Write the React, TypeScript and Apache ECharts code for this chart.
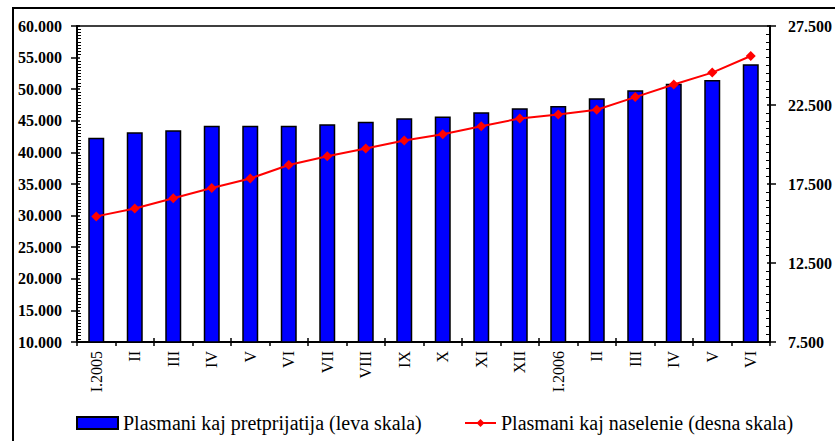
import React, { useEffect, useRef } from "react";
import * as echarts from "echarts";

const categories = [
  "I.2005", "II", "III", "IV", "V", "VI", "VII", "VIII", "IX", "X", "XI", "XII",
  "I.2006", "II", "III", "IV", "V", "VI",
];
const enterpriseLoans = [
  42300, 43200, 43500, 44200, 44200, 44200, 44450, 44850, 45400, 45700, 46350, 47000,
  47350, 48550, 49850, 50850, 51450, 53950,
];
const householdLoans = [
  15450, 15950, 16600, 17250, 17850, 18700, 19250, 19750, 20250, 20650, 21150, 21650,
  21900, 22200, 23000, 23800, 24550, 25600,
];
const leftAxisRange = [10000, 60000];
const rightAxisRange = [7500, 27500];
const axisStep = 5000;

const barName = "Plasmani kaj pretprijatija (leva skala)";
const lineName = "Plasmani kaj naselenie (desna skala)";

const fmt = (v: number) => String(v).replace(/\B(?=(\d{3})+(?!\d))/g, ".");

const SERIF = "'Liberation Serif', 'Times New Roman', serif";

export default function App() {
  const ref = useRef<HTMLDivElement>(null);
  useEffect(() => {
    if (!ref.current) return;
    const chart = echarts.init(ref.current, null, { renderer: "svg" });
    const yLabel = {
      show: true,
      fontFamily: SERIF,
      fontWeight: "bold" as const,
      fontSize: 16,
      color: "#000",
      margin: 15,
      formatter: (v: number) => fmt(v),
    };
    const overlayY = (pos: "left" | "right", range: number[]) => ({
      type: "value",
      position: pos,
      min: range[0],
      max: range[1],
      interval: axisStep,
      axisLine: { show: false },
      axisLabel: { show: false },
      splitLine: { show: false },
      axisTick: { show: true, inside: true, length: 3, lineStyle: { color: "#000", width: 1.5 } },
      minorTick: { show: true, splitNumber: 10, length: 4, lineStyle: { color: "#000", width: 1 } },
    });
    const legendText = { fontFamily: SERIF, fontSize: 20, color: "#000" };
    chart.setOption({
      animation: false,
      backgroundColor: "#fff",
      grid: { left: 77, right: 56, top: 26, bottom: 99, containLabel: false },
      graphic: [
        {
          type: "rect",
          shape: { x: 13, y: 8, width: 1200, height: 1000 },
          style: { fill: "none", stroke: "#000", lineWidth: 2 },
          silent: true,
        },
      ],
      legend: [
        {
          data: [{ name: barName, icon: "rect" }],
          left: 76,
          top: 413,
          padding: 0,
          itemWidth: 41,
          itemHeight: 12,
          selectedMode: false,
          textStyle: legendText,
        },
        {
          data: [lineName],
          left: 464,
          top: 413,
          padding: 0,
          itemWidth: 31,
          itemHeight: 10,
          selectedMode: false,
          textStyle: legendText,
        },
      ],
      xAxis: [
        {
          type: "category",
          position: "bottom",
          data: categories,
          boundaryGap: true,
          axisLine: { show: true, lineStyle: { color: "#000", width: 2 } },
          axisTick: { show: true, length: 4, lineStyle: { color: "#000", width: 1.5 } },
          axisLabel: {
            rotate: 90,
            interval: 0,
            margin: 9,
            fontFamily: SERIF,
            fontSize: 16,
            color: "#000",
          },
          splitLine: { show: false },
        },
        {
          type: "category",
          position: "bottom",
          data: categories,
          boundaryGap: true,
          axisLine: { show: false },
          axisTick: { show: true, inside: true, length: 4, lineStyle: { color: "#000", width: 1.5 } },
          axisLabel: { show: false },
          splitLine: { show: false },
        },
        {
          type: "category",
          position: "top",
          data: categories,
          axisLine: { show: true, lineStyle: { color: "#000", width: 1.5 } },
          axisTick: { show: false },
          axisLabel: { show: false },
          splitLine: { show: false },
        },
      ],
      yAxis: [
        {
          type: "value",
          position: "left",
          min: leftAxisRange[0],
          max: leftAxisRange[1],
          interval: axisStep,
          axisLine: { show: true, lineStyle: { color: "#000", width: 2 } },
          axisTick: { show: true, length: 6, lineStyle: { color: "#000", width: 1.5 } },
          axisLabel: yLabel,
          splitLine: { show: false },
        },
        {
          type: "value",
          position: "right",
          min: rightAxisRange[0],
          max: rightAxisRange[1],
          interval: axisStep,
          axisLine: { show: true, lineStyle: { color: "#000", width: 2 } },
          axisTick: { show: true, length: 6, lineStyle: { color: "#000", width: 1.5 } },
          axisLabel: { ...yLabel, margin: 18 },
          splitLine: { show: false },
        },
        overlayY("left", leftAxisRange),
        overlayY("right", rightAxisRange),
      ],
      series: [
        {
          name: barName,
          type: "bar",
          xAxisIndex: 0,
          yAxisIndex: 0,
          data: enterpriseLoans,
          barWidth: 16,
          itemStyle: { color: "#0000FF", borderColor: "#000", borderWidth: 1.5 },
        },
        {
          name: lineName,
          type: "line",
          xAxisIndex: 0,
          yAxisIndex: 1,
          data: householdLoans,
          symbol: "diamond",
          symbolSize: 10,
          lineStyle: { color: "#FF0000", width: 2 },
          itemStyle: { color: "#FF0000" },
          z: 5,
        },
      ],
    });
    return () => chart.dispose();
  }, []);
  return (
    <div
      ref={ref}
      style={{ position: "absolute", left: 0, top: 0, width: 835, height: 441 }}
    />
  );
}
